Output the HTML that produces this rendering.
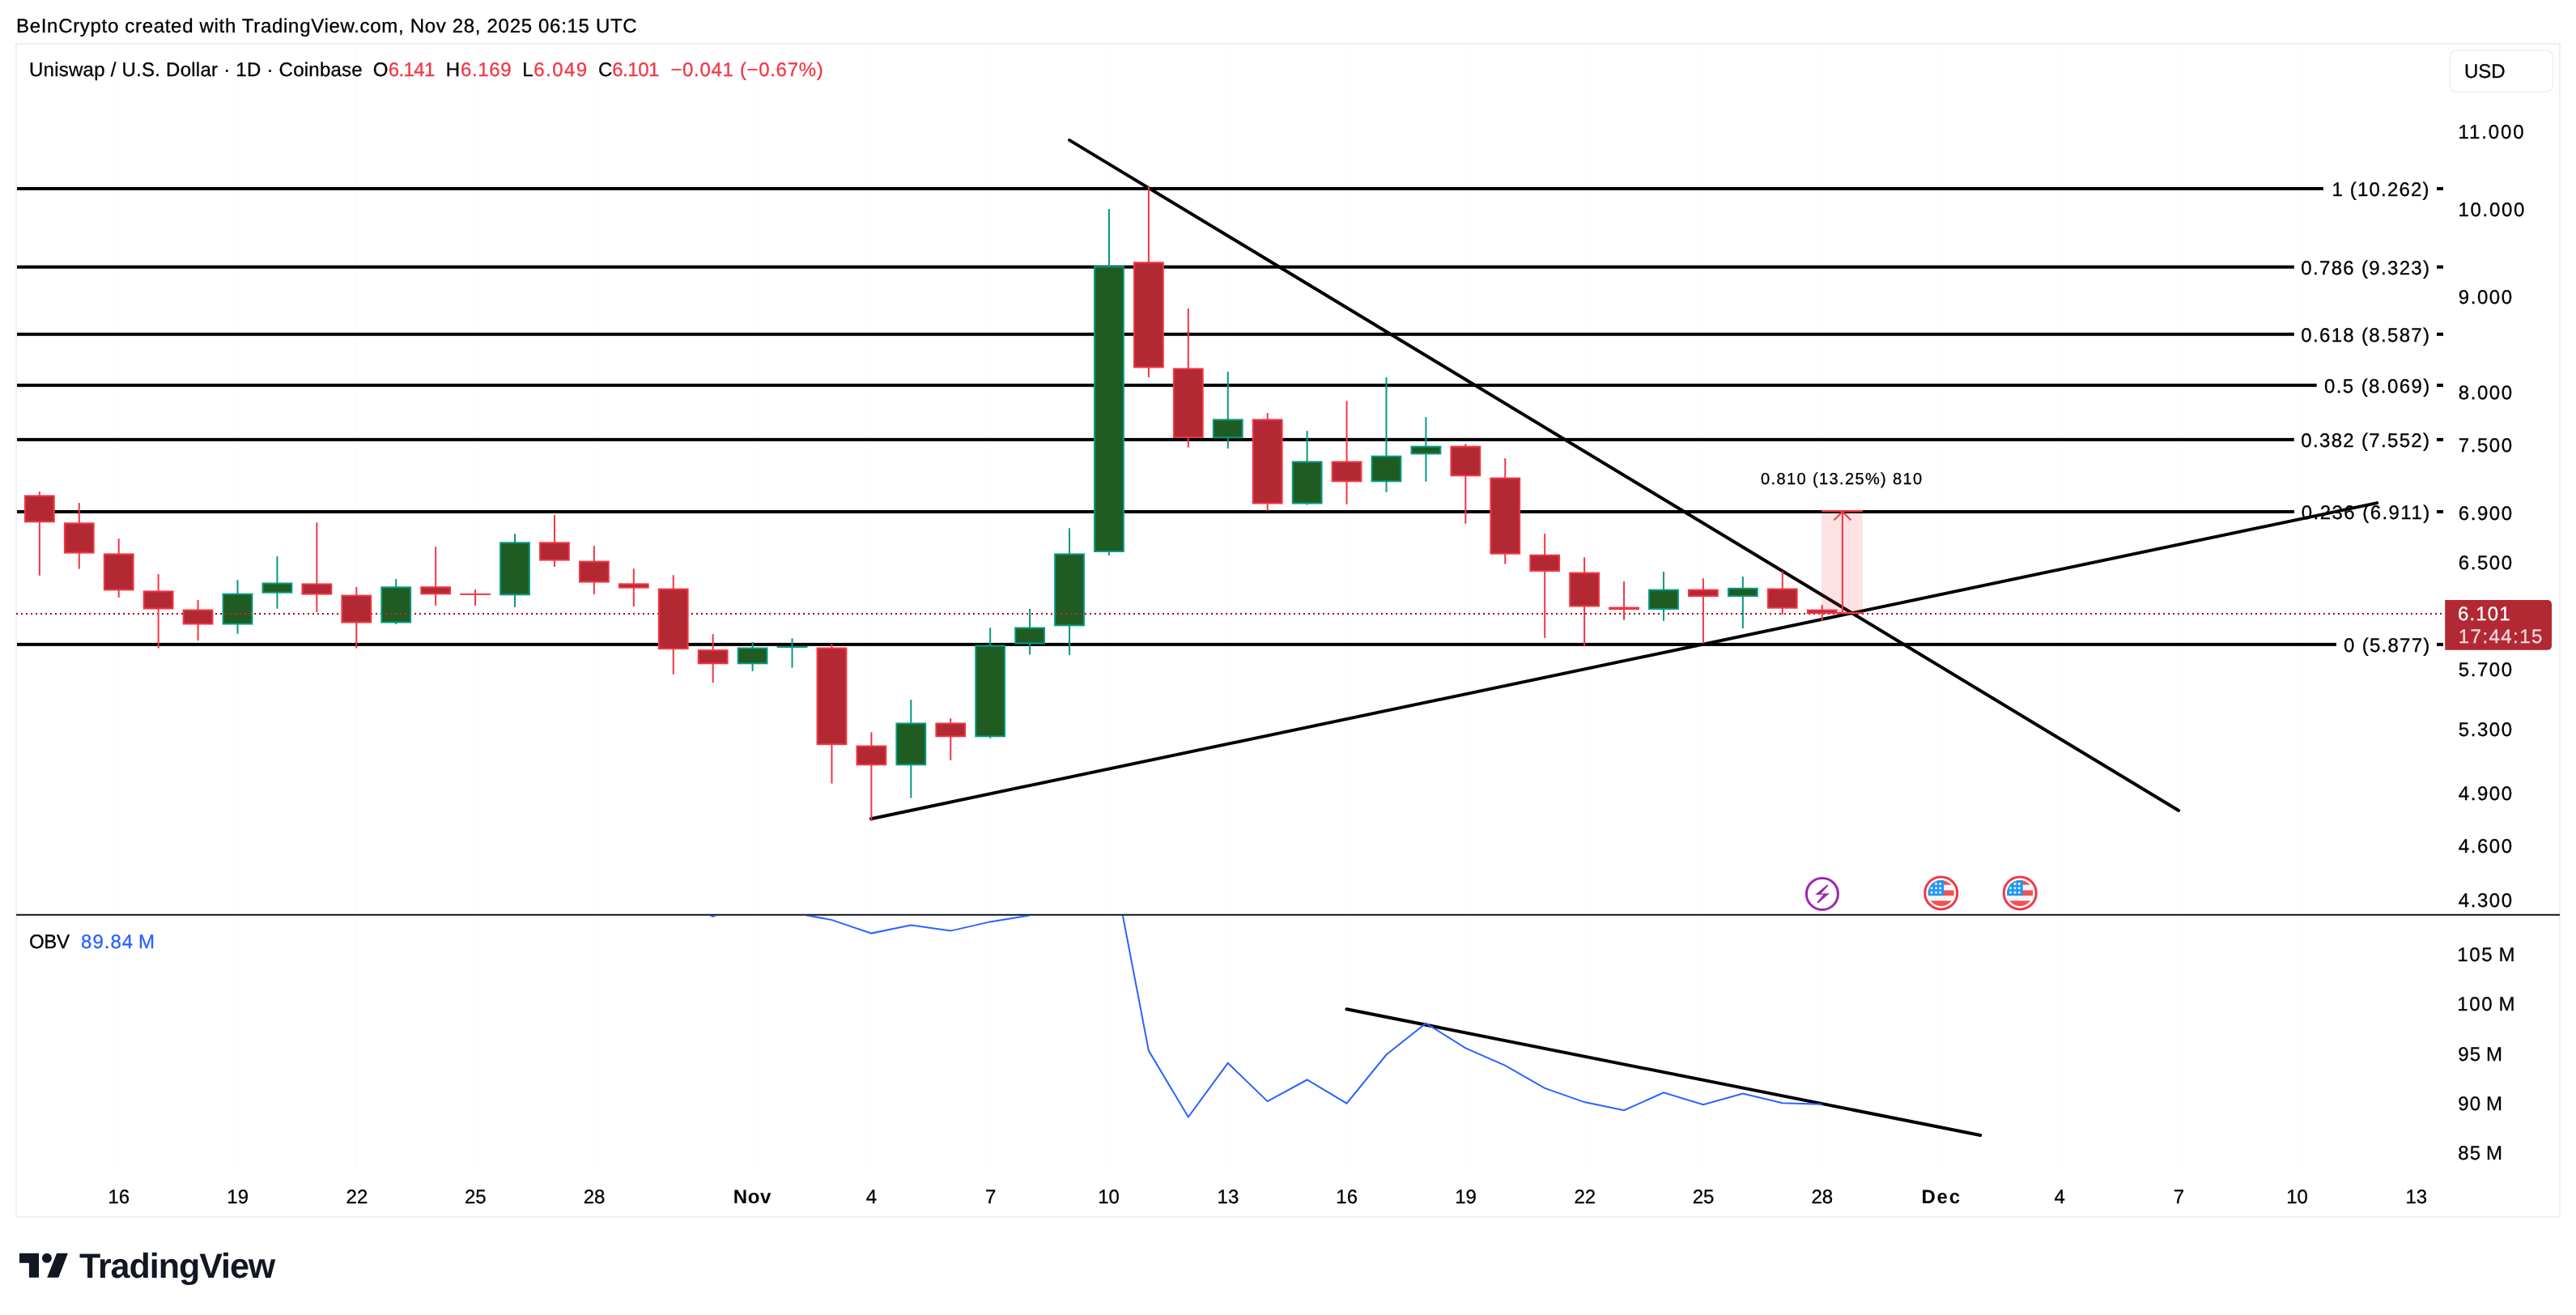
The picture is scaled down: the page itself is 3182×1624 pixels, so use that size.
<!DOCTYPE html>
<html><head><meta charset="utf-8"><title>Uniswap / U.S. Dollar chart</title>
<style>html,body{margin:0;padding:0;background:#fff;overflow:hidden}svg{display:block}</style></head>
<body>
<svg width="3182" height="1624" viewBox="0 0 3182 1624" font-family="Liberation Sans, Arial, sans-serif" text-rendering="geometricPrecision" style="will-change:transform">
<defs><clipPath id="obvclip"><rect x="20" y="1130.8" width="3000" height="316"/></clipPath></defs>
<rect width="3182" height="1624" fill="#ffffff"/>
<rect x="20" y="54" width="3142" height="1449" fill="none" stroke="#efefef" stroke-width="2"/>
<rect x="146.21" y="55" width="1" height="1391.5" fill="#fbfbfb"/>
<rect x="293.00" y="55" width="1" height="1391.5" fill="#fbfbfb"/>
<rect x="439.79" y="55" width="1" height="1391.5" fill="#fbfbfb"/>
<rect x="586.58" y="55" width="1" height="1391.5" fill="#fbfbfb"/>
<rect x="733.37" y="55" width="1" height="1391.5" fill="#fbfbfb"/>
<rect x="929.09" y="55" width="1" height="1391.5" fill="#fbfbfb"/>
<rect x="1075.88" y="55" width="1" height="1391.5" fill="#fbfbfb"/>
<rect x="1222.67" y="55" width="1" height="1391.5" fill="#fbfbfb"/>
<rect x="1369.46" y="55" width="1" height="1391.5" fill="#fbfbfb"/>
<rect x="1516.25" y="55" width="1" height="1391.5" fill="#fbfbfb"/>
<rect x="1663.04" y="55" width="1" height="1391.5" fill="#fbfbfb"/>
<rect x="1809.83" y="55" width="1" height="1391.5" fill="#fbfbfb"/>
<rect x="1956.62" y="55" width="1" height="1391.5" fill="#fbfbfb"/>
<rect x="2103.41" y="55" width="1" height="1391.5" fill="#fbfbfb"/>
<rect x="2250.20" y="55" width="1" height="1391.5" fill="#fbfbfb"/>
<rect x="2396.99" y="55" width="1" height="1391.5" fill="#fbfbfb"/>
<rect x="2543.78" y="55" width="1" height="1391.5" fill="#fbfbfb"/>
<rect x="2690.57" y="55" width="1" height="1391.5" fill="#fbfbfb"/>
<rect x="2837.36" y="55" width="1" height="1391.5" fill="#fbfbfb"/>
<rect x="2984.15" y="55" width="1" height="1391.5" fill="#fbfbfb"/>
<rect x="21" y="231.00" width="2848.90" height="4" fill="#000"/>
<rect x="3010" y="231.00" width="8" height="4" fill="#000"/>
<rect x="21" y="327.70" width="2812.80" height="4" fill="#000"/>
<rect x="3010" y="327.70" width="8" height="4" fill="#000"/>
<rect x="21" y="410.80" width="2812.80" height="4" fill="#000"/>
<rect x="3010" y="410.80" width="8" height="4" fill="#000"/>
<rect x="21" y="473.80" width="2840.70" height="4" fill="#000"/>
<rect x="3010" y="473.80" width="8" height="4" fill="#000"/>
<rect x="21" y="540.90" width="2812.80" height="4" fill="#000"/>
<rect x="3010" y="540.90" width="8" height="4" fill="#000"/>
<rect x="21" y="630.00" width="2812.90" height="4" fill="#000"/>
<rect x="3010" y="630.00" width="8" height="4" fill="#000"/>
<rect x="21" y="793.90" width="2864.90" height="4" fill="#000"/>
<rect x="3010" y="793.90" width="8" height="4" fill="#000"/>
<line x1="1321.1" y1="173.1" x2="2691.2" y2="1001.0" stroke="#000" stroke-width="4" stroke-linecap="round"/>
<line x1="1075.9" y1="1011.2" x2="2936.2" y2="621.1" stroke="#000" stroke-width="4" stroke-linecap="round"/>
<line x1="20" y1="758" x2="3017" y2="758" stroke="#9e0a14" stroke-width="2" stroke-dasharray="2 4"/>
<rect x="47.85" y="607.10" width="2" height="103.60" fill="#f23645"/>
<rect x="29.95" y="611.40" width="37.8" height="33.90" fill="#f23645"/>
<rect x="31.95" y="613.40" width="33.8" height="29.90" fill="#b22833"/>
<rect x="96.78" y="621.10" width="2" height="81.50" fill="#f23645"/>
<rect x="78.88" y="645.30" width="37.8" height="38.30" fill="#f23645"/>
<rect x="80.88" y="647.30" width="33.8" height="34.30" fill="#b22833"/>
<rect x="145.71" y="665.10" width="2" height="72.80" fill="#f23645"/>
<rect x="127.81" y="683.40" width="37.8" height="46.00" fill="#f23645"/>
<rect x="129.81" y="685.40" width="33.8" height="42.00" fill="#b22833"/>
<rect x="194.64" y="709.00" width="2" height="91.60" fill="#f23645"/>
<rect x="176.74" y="729.40" width="37.8" height="23.10" fill="#f23645"/>
<rect x="178.74" y="731.40" width="33.8" height="19.10" fill="#b22833"/>
<rect x="243.57" y="741.00" width="2" height="49.90" fill="#f23645"/>
<rect x="225.67" y="752.50" width="37.8" height="19.00" fill="#f23645"/>
<rect x="227.67" y="754.50" width="33.8" height="15.00" fill="#b22833"/>
<rect x="292.50" y="716.20" width="2" height="66.50" fill="#089981"/>
<rect x="274.60" y="732.70" width="37.8" height="38.80" fill="#089981"/>
<rect x="276.60" y="734.70" width="33.8" height="34.80" fill="#1e5c22"/>
<rect x="341.43" y="687.00" width="2" height="64.70" fill="#089981"/>
<rect x="323.53" y="719.50" width="37.8" height="13.20" fill="#089981"/>
<rect x="325.53" y="721.50" width="33.8" height="9.20" fill="#1e5c22"/>
<rect x="390.36" y="645.30" width="2" height="110.70" fill="#f23645"/>
<rect x="372.46" y="720.40" width="37.8" height="14.20" fill="#f23645"/>
<rect x="374.46" y="722.40" width="33.8" height="10.20" fill="#b22833"/>
<rect x="439.29" y="724.90" width="2" height="75.70" fill="#f23645"/>
<rect x="421.39" y="734.60" width="37.8" height="34.90" fill="#f23645"/>
<rect x="423.39" y="736.60" width="33.8" height="30.90" fill="#b22833"/>
<rect x="488.22" y="715.20" width="2" height="55.70" fill="#089981"/>
<rect x="470.32" y="724.30" width="37.8" height="45.20" fill="#089981"/>
<rect x="472.32" y="726.30" width="33.8" height="41.20" fill="#1e5c22"/>
<rect x="537.15" y="675.30" width="2" height="72.60" fill="#f23645"/>
<rect x="519.25" y="724.20" width="37.8" height="10.10" fill="#f23645"/>
<rect x="521.25" y="726.20" width="33.8" height="6.10" fill="#b22833"/>
<rect x="586.08" y="728.10" width="2" height="19.80" fill="#f23645"/>
<rect x="568.18" y="732.90" width="37.8" height="2.00" fill="#f23645"/>
<rect x="635.01" y="659.20" width="2" height="90.60" fill="#089981"/>
<rect x="617.11" y="669.30" width="37.8" height="66.00" fill="#089981"/>
<rect x="619.11" y="671.30" width="33.8" height="62.00" fill="#1e5c22"/>
<rect x="683.94" y="636.10" width="2" height="63.90" fill="#f23645"/>
<rect x="666.04" y="669.30" width="37.8" height="23.30" fill="#f23645"/>
<rect x="668.04" y="671.30" width="33.8" height="19.30" fill="#b22833"/>
<rect x="732.87" y="674.10" width="2" height="59.80" fill="#f23645"/>
<rect x="714.97" y="692.60" width="37.8" height="27.00" fill="#f23645"/>
<rect x="716.97" y="694.60" width="33.8" height="23.00" fill="#b22833"/>
<rect x="781.80" y="702.30" width="2" height="46.80" fill="#f23645"/>
<rect x="763.90" y="720.30" width="37.8" height="6.30" fill="#f23645"/>
<rect x="765.90" y="722.30" width="33.8" height="2.30" fill="#b22833"/>
<rect x="830.73" y="710.20" width="2" height="122.60" fill="#f23645"/>
<rect x="812.83" y="726.60" width="37.8" height="75.50" fill="#f23645"/>
<rect x="814.83" y="728.60" width="33.8" height="71.50" fill="#b22833"/>
<rect x="879.66" y="783.10" width="2" height="59.90" fill="#f23645"/>
<rect x="861.76" y="802.10" width="37.8" height="18.20" fill="#f23645"/>
<rect x="863.76" y="804.10" width="33.8" height="14.20" fill="#b22833"/>
<rect x="928.59" y="793.00" width="2" height="35.80" fill="#089981"/>
<rect x="910.69" y="799.50" width="37.8" height="20.80" fill="#089981"/>
<rect x="912.69" y="801.50" width="33.8" height="16.80" fill="#1e5c22"/>
<rect x="977.52" y="788.30" width="2" height="36.30" fill="#089981"/>
<rect x="959.62" y="798.00" width="37.8" height="2.00" fill="#089981"/>
<rect x="1026.45" y="795.20" width="2" height="172.40" fill="#f23645"/>
<rect x="1008.55" y="799.50" width="37.8" height="120.60" fill="#f23645"/>
<rect x="1010.55" y="801.50" width="33.8" height="116.60" fill="#b22833"/>
<rect x="1075.38" y="904.30" width="2" height="109.50" fill="#f23645"/>
<rect x="1057.48" y="920.50" width="37.8" height="24.80" fill="#f23645"/>
<rect x="1059.48" y="922.50" width="33.8" height="20.80" fill="#b22833"/>
<rect x="1124.31" y="864.20" width="2" height="121.20" fill="#089981"/>
<rect x="1106.41" y="892.50" width="37.8" height="52.80" fill="#089981"/>
<rect x="1108.41" y="894.50" width="33.8" height="48.80" fill="#1e5c22"/>
<rect x="1173.24" y="887.10" width="2" height="51.80" fill="#f23645"/>
<rect x="1155.34" y="892.50" width="37.8" height="17.80" fill="#f23645"/>
<rect x="1157.34" y="894.50" width="33.8" height="13.80" fill="#b22833"/>
<rect x="1222.17" y="775.20" width="2" height="136.60" fill="#089981"/>
<rect x="1204.27" y="796.60" width="37.8" height="113.70" fill="#089981"/>
<rect x="1206.27" y="798.60" width="33.8" height="109.70" fill="#1e5c22"/>
<rect x="1271.10" y="752.00" width="2" height="56.30" fill="#089981"/>
<rect x="1253.20" y="774.50" width="37.8" height="21.00" fill="#089981"/>
<rect x="1255.20" y="776.50" width="33.8" height="17.00" fill="#1e5c22"/>
<rect x="1320.03" y="652.30" width="2" height="156.70" fill="#089981"/>
<rect x="1302.13" y="683.40" width="37.8" height="89.90" fill="#089981"/>
<rect x="1304.13" y="685.40" width="33.8" height="85.90" fill="#1e5c22"/>
<rect x="1368.96" y="258.10" width="2" height="428.00" fill="#089981"/>
<rect x="1351.06" y="328.30" width="37.8" height="353.70" fill="#089981"/>
<rect x="1353.06" y="330.30" width="33.8" height="349.70" fill="#1e5c22"/>
<rect x="1417.89" y="230.10" width="2" height="235.80" fill="#f23645"/>
<rect x="1399.99" y="323.30" width="37.8" height="131.20" fill="#f23645"/>
<rect x="1401.99" y="325.30" width="33.8" height="127.20" fill="#b22833"/>
<rect x="1466.82" y="381.00" width="2" height="171.60" fill="#f23645"/>
<rect x="1448.92" y="454.50" width="37.8" height="86.50" fill="#f23645"/>
<rect x="1450.92" y="456.50" width="33.8" height="82.50" fill="#b22833"/>
<rect x="1515.75" y="459.10" width="2" height="94.70" fill="#089981"/>
<rect x="1497.85" y="517.40" width="37.8" height="23.90" fill="#089981"/>
<rect x="1499.85" y="519.40" width="33.8" height="19.90" fill="#1e5c22"/>
<rect x="1564.68" y="510.20" width="2" height="120.70" fill="#f23645"/>
<rect x="1546.78" y="517.40" width="37.8" height="105.10" fill="#f23645"/>
<rect x="1548.78" y="519.40" width="33.8" height="101.10" fill="#b22833"/>
<rect x="1613.61" y="532.20" width="2" height="91.40" fill="#089981"/>
<rect x="1595.71" y="569.40" width="37.8" height="53.10" fill="#089981"/>
<rect x="1597.71" y="571.40" width="33.8" height="49.10" fill="#1e5c22"/>
<rect x="1662.54" y="495.20" width="2" height="127.60" fill="#f23645"/>
<rect x="1644.64" y="569.40" width="37.8" height="25.90" fill="#f23645"/>
<rect x="1646.64" y="571.40" width="33.8" height="21.90" fill="#b22833"/>
<rect x="1711.47" y="466.00" width="2" height="141.80" fill="#089981"/>
<rect x="1693.57" y="562.60" width="37.8" height="32.70" fill="#089981"/>
<rect x="1695.57" y="564.60" width="33.8" height="28.70" fill="#1e5c22"/>
<rect x="1760.40" y="515.10" width="2" height="79.70" fill="#089981"/>
<rect x="1742.50" y="550.60" width="37.8" height="10.70" fill="#089981"/>
<rect x="1744.50" y="552.60" width="33.8" height="6.70" fill="#1e5c22"/>
<rect x="1809.33" y="548.20" width="2" height="98.50" fill="#f23645"/>
<rect x="1791.43" y="550.60" width="37.8" height="37.70" fill="#f23645"/>
<rect x="1793.43" y="552.60" width="33.8" height="33.70" fill="#b22833"/>
<rect x="1858.26" y="566.00" width="2" height="130.50" fill="#f23645"/>
<rect x="1840.36" y="589.60" width="37.8" height="95.10" fill="#f23645"/>
<rect x="1842.36" y="591.60" width="33.8" height="91.10" fill="#b22833"/>
<rect x="1907.19" y="659.10" width="2" height="128.70" fill="#f23645"/>
<rect x="1889.29" y="684.70" width="37.8" height="21.30" fill="#f23645"/>
<rect x="1891.29" y="686.70" width="33.8" height="17.30" fill="#b22833"/>
<rect x="1956.12" y="688.30" width="2" height="109.90" fill="#f23645"/>
<rect x="1938.22" y="706.60" width="37.8" height="42.90" fill="#f23645"/>
<rect x="1940.22" y="708.60" width="33.8" height="38.90" fill="#b22833"/>
<rect x="2005.05" y="718.10" width="2" height="47.80" fill="#f23645"/>
<rect x="1987.15" y="749.50" width="37.8" height="3.60" fill="#f23645"/>
<rect x="2053.98" y="706.00" width="2" height="60.80" fill="#089981"/>
<rect x="2036.08" y="727.60" width="37.8" height="25.40" fill="#089981"/>
<rect x="2038.08" y="729.60" width="33.8" height="21.40" fill="#1e5c22"/>
<rect x="2102.91" y="714.30" width="2" height="80.30" fill="#f23645"/>
<rect x="2085.01" y="727.60" width="37.8" height="9.50" fill="#f23645"/>
<rect x="2087.01" y="729.60" width="33.8" height="5.50" fill="#b22833"/>
<rect x="2151.84" y="712.10" width="2" height="63.90" fill="#089981"/>
<rect x="2133.94" y="725.80" width="37.8" height="11.30" fill="#089981"/>
<rect x="2135.94" y="727.80" width="33.8" height="7.30" fill="#1e5c22"/>
<rect x="2200.77" y="705.50" width="2" height="53.50" fill="#f23645"/>
<rect x="2182.87" y="726.50" width="37.8" height="25.20" fill="#f23645"/>
<rect x="2184.87" y="728.50" width="33.8" height="21.20" fill="#b22833"/>
<rect x="2249.70" y="747.10" width="2" height="19.70" fill="#f23645"/>
<rect x="2231.80" y="752.60" width="37.8" height="5.50" fill="#f23645"/>
<rect x="2233.80" y="754.60" width="33.8" height="1.50" fill="#b22833"/>
<line x1="20" y1="758" x2="3017" y2="758" stroke="#e11d38" stroke-width="2" stroke-dasharray="2 4" clip-path="url(#gb5)"/>
<clipPath id="gb5"><rect x="276.60" y="700" width="33.8" height="100"/></clipPath>
<line x1="20" y1="758" x2="3017" y2="758" stroke="#e11d38" stroke-width="2" stroke-dasharray="2 4" clip-path="url(#gb9)"/>
<clipPath id="gb9"><rect x="472.32" y="700" width="33.8" height="100"/></clipPath>
<line x1="20" y1="758" x2="3017" y2="758" stroke="#e11d38" stroke-width="2" stroke-dasharray="2 4" clip-path="url(#gb26)"/>
<clipPath id="gb26"><rect x="1304.13" y="700" width="33.8" height="100"/></clipPath>
<rect x="2250.2" y="631" width="50.6" height="126" fill="#f23645" fill-opacity="0.15"/>
<rect x="2250.2" y="630" width="50.6" height="2" fill="#f23645"/>
<rect x="2269" y="756" width="31.8" height="2" fill="#f23645"/>
<path d="M2275.9,756.5 L2275.9,632 M2265.4,642.4 L2275.9,632 L2286.4,642.4" fill="none" stroke="#f23645" stroke-width="2"/>
<circle cx="2250.9" cy="1103.9" r="19.5" fill="#fff" stroke="#9c27b0" stroke-width="3"/><path d="M2257.10,1092.50 L2242.10,1104.90 L2252.30,1104.80 L2244.20,1114.40 L2245.80,1115.60 L2259.90,1103.30 L2249.60,1103.40 L2258.60,1093.60 Z" fill="#9c27b0"/>
<circle cx="2397.7" cy="1102.9" r="20" fill="#fff" stroke="#f23645" stroke-width="3"/>
<clipPath id="fc2397"><circle cx="2397.7" cy="1102.9" r="16"/></clipPath>
<g clip-path="url(#fc2397)">
<rect x="2380.7" y="1085.9" width="34" height="34" fill="#f5f6fa"/>
<rect x="2380.7" y="1086.9" width="34" height="5.800000000000001" fill="#ef5350"/>
<rect x="2380.7" y="1099.5" width="34" height="6.6" fill="#ef5350"/>
<rect x="2380.7" y="1112.4" width="34" height="7.5" fill="#ef5350"/>
<rect x="2380.7" y="1085.9" width="20.5" height="20.2" fill="#2196f3"/>
<polygon points="2391.50,1089.30 2392.06,1090.83 2393.69,1090.89 2392.40,1091.89 2392.85,1093.46 2391.50,1092.55 2390.15,1093.46 2390.60,1091.89 2389.31,1090.89 2390.94,1090.83" fill="#fff"/>
<polygon points="2396.70,1089.30 2397.26,1090.83 2398.89,1090.89 2397.60,1091.89 2398.05,1093.46 2396.70,1092.55 2395.35,1093.46 2395.80,1091.89 2394.51,1090.89 2396.14,1090.83" fill="#fff"/>
<polygon points="2386.10,1094.60 2386.66,1096.13 2388.29,1096.19 2387.00,1097.19 2387.45,1098.76 2386.10,1097.85 2384.75,1098.76 2385.20,1097.19 2383.91,1096.19 2385.54,1096.13" fill="#fff"/>
<polygon points="2391.50,1094.60 2392.06,1096.13 2393.69,1096.19 2392.40,1097.19 2392.85,1098.76 2391.50,1097.85 2390.15,1098.76 2390.60,1097.19 2389.31,1096.19 2390.94,1096.13" fill="#fff"/>
<polygon points="2396.70,1094.60 2397.26,1096.13 2398.89,1096.19 2397.60,1097.19 2398.05,1098.76 2396.70,1097.85 2395.35,1098.76 2395.80,1097.19 2394.51,1096.19 2396.14,1096.13" fill="#fff"/>
<polygon points="2386.10,1099.90 2386.66,1101.43 2388.29,1101.49 2387.00,1102.49 2387.45,1104.06 2386.10,1103.15 2384.75,1104.06 2385.20,1102.49 2383.91,1101.49 2385.54,1101.43" fill="#fff"/>
<polygon points="2391.50,1099.90 2392.06,1101.43 2393.69,1101.49 2392.40,1102.49 2392.85,1104.06 2391.50,1103.15 2390.15,1104.06 2390.60,1102.49 2389.31,1101.49 2390.94,1101.43" fill="#fff"/>
<polygon points="2396.70,1099.90 2397.26,1101.43 2398.89,1101.49 2397.60,1102.49 2398.05,1104.06 2396.70,1103.15 2395.35,1104.06 2395.80,1102.49 2394.51,1101.49 2396.14,1101.43" fill="#fff"/>
</g>
<circle cx="2495.2" cy="1102.9" r="20" fill="#fff" stroke="#f23645" stroke-width="3"/>
<clipPath id="fc2495"><circle cx="2495.2" cy="1102.9" r="16"/></clipPath>
<g clip-path="url(#fc2495)">
<rect x="2478.2" y="1085.9" width="34" height="34" fill="#f5f6fa"/>
<rect x="2478.2" y="1086.9" width="34" height="5.800000000000001" fill="#ef5350"/>
<rect x="2478.2" y="1099.5" width="34" height="6.6" fill="#ef5350"/>
<rect x="2478.2" y="1112.4" width="34" height="7.5" fill="#ef5350"/>
<rect x="2478.2" y="1085.9" width="20.5" height="20.2" fill="#2196f3"/>
<polygon points="2489.00,1089.30 2489.56,1090.83 2491.19,1090.89 2489.90,1091.89 2490.35,1093.46 2489.00,1092.55 2487.65,1093.46 2488.10,1091.89 2486.81,1090.89 2488.44,1090.83" fill="#fff"/>
<polygon points="2494.20,1089.30 2494.76,1090.83 2496.39,1090.89 2495.10,1091.89 2495.55,1093.46 2494.20,1092.55 2492.85,1093.46 2493.30,1091.89 2492.01,1090.89 2493.64,1090.83" fill="#fff"/>
<polygon points="2483.60,1094.60 2484.16,1096.13 2485.79,1096.19 2484.50,1097.19 2484.95,1098.76 2483.60,1097.85 2482.25,1098.76 2482.70,1097.19 2481.41,1096.19 2483.04,1096.13" fill="#fff"/>
<polygon points="2489.00,1094.60 2489.56,1096.13 2491.19,1096.19 2489.90,1097.19 2490.35,1098.76 2489.00,1097.85 2487.65,1098.76 2488.10,1097.19 2486.81,1096.19 2488.44,1096.13" fill="#fff"/>
<polygon points="2494.20,1094.60 2494.76,1096.13 2496.39,1096.19 2495.10,1097.19 2495.55,1098.76 2494.20,1097.85 2492.85,1098.76 2493.30,1097.19 2492.01,1096.19 2493.64,1096.13" fill="#fff"/>
<polygon points="2483.60,1099.90 2484.16,1101.43 2485.79,1101.49 2484.50,1102.49 2484.95,1104.06 2483.60,1103.15 2482.25,1104.06 2482.70,1102.49 2481.41,1101.49 2483.04,1101.43" fill="#fff"/>
<polygon points="2489.00,1099.90 2489.56,1101.43 2491.19,1101.49 2489.90,1102.49 2490.35,1104.06 2489.00,1103.15 2487.65,1104.06 2488.10,1102.49 2486.81,1101.49 2488.44,1101.43" fill="#fff"/>
<polygon points="2494.20,1099.90 2494.76,1101.43 2496.39,1101.49 2495.10,1102.49 2495.55,1104.06 2494.20,1103.15 2492.85,1104.06 2493.30,1102.49 2492.01,1101.49 2493.64,1101.43" fill="#fff"/>
</g>
<rect x="20" y="1128.8" width="3142" height="2" fill="#131722"/>
<line x1="1663.4" y1="1246.2" x2="2446.2" y2="1402" stroke="#000" stroke-width="4" stroke-linecap="round"/>
<polyline points="831.73,1110.00 880.66,1131.90 929.59,1110.00 978.52,1127.10 1027.45,1136.10 1076.38,1152.60 1125.31,1142.60 1174.24,1149.60 1223.17,1138.40 1272.10,1130.40 1321.03,1090.00 1369.96,1042.30 1418.89,1297.60 1467.82,1379.50 1516.75,1312.80 1565.68,1360.10 1614.61,1333.50 1663.54,1362.70 1712.47,1302.50 1761.40,1263.70 1810.33,1294.30 1859.26,1315.80 1908.19,1343.90 1957.12,1361.10 2006.05,1371.20 2054.98,1349.40 2103.91,1364.30 2152.84,1350.60 2201.77,1362.30 2250.70,1363.80" fill="none" stroke="#2962ff" stroke-width="2" stroke-linejoin="miter" clip-path="url(#obvclip)"/>
<path d="M3020.2,741.1 H3147 a5,5 0 0 1 5,5 V797.8 a5,5 0 0 1 -5,5 H3020.2 Z" fill="#b22833"/>
<rect x="3026" y="62" width="127.5" height="51.8" rx="9" fill="#fff" stroke="#efefef" stroke-width="1.5"/>
<path d="M24,1547.8 H48 V1577.7 H35.9 V1559.7 H24 Z" fill="#131722"/>
<circle cx="57.9" cy="1553.8" r="6" fill="#131722"/>
<path d="M70.1,1547.8 H83.9 L72.3,1577.7 H58.2 Z" fill="#131722"/>
<text x="20.00" y="40.00" font-size="24" stroke="#000000" stroke-width="0.3" fill="#000000" textLength="766.64" lengthAdjust="spacing">BeInCrypto created with TradingView.com, Nov 28, 2025 06:15 UTC</text>
<text x="36.00" y="93.90" font-size="24" stroke="#000000" stroke-width="0.3" fill="#000000" textLength="411.71" lengthAdjust="spacing">Uniswap / U.S. Dollar · 1D · Coinbase</text>
<text x="460.80" y="93.90" font-size="24" stroke="#000000" stroke-width="0.3" fill="#000000" textLength="18.67" lengthAdjust="spacing">O</text>
<text x="479.80" y="93.90" font-size="24" stroke="#f23645" stroke-width="0.3" fill="#f23645" textLength="57.46" lengthAdjust="spacing">6.141</text>
<text x="550.70" y="93.90" font-size="24" stroke="#000000" stroke-width="0.3" fill="#000000" textLength="19.24" lengthAdjust="spacing">H</text>
<text x="568.90" y="93.90" font-size="24" stroke="#f23645" stroke-width="0.3" fill="#f23645" textLength="62.76" lengthAdjust="spacing">6.169</text>
<text x="645.30" y="93.90" font-size="24" stroke="#000000" stroke-width="0.3" fill="#000000">L</text>
<text x="659.30" y="93.90" font-size="24" stroke="#f23645" stroke-width="0.3" fill="#f23645" textLength="65.76" lengthAdjust="spacing">6.049</text>
<text x="739.00" y="93.90" font-size="24" stroke="#000000" stroke-width="0.3" fill="#000000">C</text>
<text x="756.20" y="93.90" font-size="24" stroke="#f23645" stroke-width="0.3" fill="#f23645" textLength="58.16" lengthAdjust="spacing">6.101</text>
<text x="828.40" y="93.90" font-size="24" stroke="#f23645" stroke-width="0.3" fill="#f23645" textLength="188.30" lengthAdjust="spacing">−0.041 (−0.67%)</text>
<text x="3043.90" y="95.90" font-size="24" stroke="#000000" stroke-width="0.3" fill="#000000" textLength="50.67" lengthAdjust="spacing">USD</text>
<text x="3036.60" y="171.10" font-size="24" stroke="#000000" stroke-width="0.3" fill="#000000" textLength="80.93" lengthAdjust="spacing">11.000</text>
<text x="3036.60" y="267.10" font-size="24" stroke="#000000" stroke-width="0.3" fill="#000000" textLength="81.71" lengthAdjust="spacing">10.000</text>
<text x="3036.80" y="374.70" font-size="24" stroke="#000000" stroke-width="0.3" fill="#000000" textLength="66.26" lengthAdjust="spacing">9.000</text>
<text x="3036.80" y="493.00" font-size="24" stroke="#000000" stroke-width="0.3" fill="#000000" textLength="66.26" lengthAdjust="spacing">8.000</text>
<text x="3036.80" y="558.00" font-size="24" stroke="#000000" stroke-width="0.3" fill="#000000" textLength="66.26" lengthAdjust="spacing">7.500</text>
<text x="3036.80" y="641.70" font-size="24" stroke="#000000" stroke-width="0.3" fill="#000000" textLength="66.26" lengthAdjust="spacing">6.900</text>
<text x="3036.80" y="702.70" font-size="24" stroke="#000000" stroke-width="0.3" fill="#000000" textLength="66.26" lengthAdjust="spacing">6.500</text>
<text x="3036.80" y="835.00" font-size="24" stroke="#000000" stroke-width="0.3" fill="#000000" textLength="66.26" lengthAdjust="spacing">5.700</text>
<text x="3036.80" y="909.40" font-size="24" stroke="#000000" stroke-width="0.3" fill="#000000" textLength="66.26" lengthAdjust="spacing">5.300</text>
<text x="3036.80" y="987.90" font-size="24" stroke="#000000" stroke-width="0.3" fill="#000000" textLength="66.26" lengthAdjust="spacing">4.900</text>
<text x="3036.80" y="1052.60" font-size="24" stroke="#000000" stroke-width="0.3" fill="#000000" textLength="66.26" lengthAdjust="spacing">4.600</text>
<text x="3036.80" y="1120.10" font-size="24" stroke="#000000" stroke-width="0.3" fill="#000000" textLength="66.26" lengthAdjust="spacing">4.300</text>
<text x="2880.40" y="242.20" font-size="24" stroke="#000000" stroke-width="0.3" fill="#000000" textLength="120.21" lengthAdjust="spacing">1 (10.262)</text>
<text x="2842.30" y="338.90" font-size="24" stroke="#000000" stroke-width="0.3" fill="#000000" textLength="158.68" lengthAdjust="spacing">0.786 (9.323)</text>
<text x="2842.30" y="422.00" font-size="24" stroke="#000000" stroke-width="0.3" fill="#000000" textLength="158.68" lengthAdjust="spacing">0.618 (8.587)</text>
<text x="2870.90" y="485.00" font-size="24" stroke="#000000" stroke-width="0.3" fill="#000000" textLength="130.38" lengthAdjust="spacing">0.5 (8.069)</text>
<text x="2842.30" y="552.10" font-size="24" stroke="#000000" stroke-width="0.3" fill="#000000" textLength="158.68" lengthAdjust="spacing">0.382 (7.552)</text>
<text x="2842.70" y="641.20" font-size="24" stroke="#000000" stroke-width="0.3" fill="#000000" textLength="158.50" lengthAdjust="spacing">0.236 (6.911)</text>
<text x="2895.10" y="805.10" font-size="24" stroke="#000000" stroke-width="0.3" fill="#000000" textLength="106.16" lengthAdjust="spacing">0 (5.877)</text>
<text x="3035.90" y="766.00" font-size="24" stroke="#ffffff" stroke-width="0.3" fill="#ffffff" textLength="64.66" lengthAdjust="spacing">6.101</text>
<text x="3036.80" y="794.00" font-size="24" stroke="#ffffff" stroke-width="0.3" fill="#ffffff" textLength="103.52" lengthAdjust="spacing" opacity="0.82">17:44:15</text>
<text x="2175.00" y="598.40" font-size="20" stroke="#000000" stroke-width="0.3" fill="#000000" textLength="199.19" lengthAdjust="spacing">0.810 (13.25%) 810</text>
<text x="35.90" y="1171.00" font-size="24" stroke="#000000" stroke-width="0.3" fill="#000000" textLength="50.19" lengthAdjust="spacing">OBV</text>
<text x="100.00" y="1171.00" font-size="24" stroke="#2962ff" stroke-width="0.3" fill="#2962ff" textLength="91.06" lengthAdjust="spacing">89.84 M</text>
<text x="3035.20" y="1186.90" font-size="24" stroke="#000000" stroke-width="0.3" fill="#000000" textLength="71.34" lengthAdjust="spacing">105 M</text>
<text x="3035.20" y="1248.10" font-size="24" stroke="#000000" stroke-width="0.3" fill="#000000" textLength="71.34" lengthAdjust="spacing">100 M</text>
<text x="3036.20" y="1309.50" font-size="24" stroke="#000000" stroke-width="0.3" fill="#000000" textLength="54.80" lengthAdjust="spacing">95 M</text>
<text x="3036.20" y="1371.00" font-size="24" stroke="#000000" stroke-width="0.3" fill="#000000" textLength="54.80" lengthAdjust="spacing">90 M</text>
<text x="3036.20" y="1432.10" font-size="24" stroke="#000000" stroke-width="0.3" fill="#000000" textLength="54.80" lengthAdjust="spacing">85 M</text>
<text x="133.51" y="1486.00" font-size="24" stroke="#000000" stroke-width="0.3" fill="#000000">16</text>
<text x="280.30" y="1486.00" font-size="24" stroke="#000000" stroke-width="0.3" fill="#000000">19</text>
<text x="427.59" y="1486.00" font-size="24" stroke="#000000" stroke-width="0.3" fill="#000000">22</text>
<text x="573.88" y="1486.00" font-size="24" stroke="#000000" stroke-width="0.3" fill="#000000">25</text>
<text x="720.67" y="1486.00" font-size="24" stroke="#000000" stroke-width="0.3" fill="#000000">28</text>
<text x="905.69" y="1486.00" font-size="24" font-weight="bold" fill="#000000" textLength="46.74" lengthAdjust="spacing">Nov</text>
<text x="1069.68" y="1486.00" font-size="24" stroke="#000000" stroke-width="0.3" fill="#000000">4</text>
<text x="1216.97" y="1486.00" font-size="24" stroke="#000000" stroke-width="0.3" fill="#000000">7</text>
<text x="1356.26" y="1486.00" font-size="24" stroke="#000000" stroke-width="0.3" fill="#000000">10</text>
<text x="1503.55" y="1486.00" font-size="24" stroke="#000000" stroke-width="0.3" fill="#000000">13</text>
<text x="1650.34" y="1486.00" font-size="24" stroke="#000000" stroke-width="0.3" fill="#000000">16</text>
<text x="1797.13" y="1486.00" font-size="24" stroke="#000000" stroke-width="0.3" fill="#000000">19</text>
<text x="1944.42" y="1486.00" font-size="24" stroke="#000000" stroke-width="0.3" fill="#000000">22</text>
<text x="2090.71" y="1486.00" font-size="24" stroke="#000000" stroke-width="0.3" fill="#000000">25</text>
<text x="2237.50" y="1486.00" font-size="24" stroke="#000000" stroke-width="0.3" fill="#000000">28</text>
<text x="2373.59" y="1486.00" font-size="24" font-weight="bold" fill="#000000" textLength="47.43" lengthAdjust="spacing">Dec</text>
<text x="2537.58" y="1486.00" font-size="24" stroke="#000000" stroke-width="0.3" fill="#000000">4</text>
<text x="2684.87" y="1486.00" font-size="24" stroke="#000000" stroke-width="0.3" fill="#000000">7</text>
<text x="2824.16" y="1486.00" font-size="24" stroke="#000000" stroke-width="0.3" fill="#000000">10</text>
<text x="2971.45" y="1486.00" font-size="24" stroke="#000000" stroke-width="0.3" fill="#000000">13</text>
<text x="98.00" y="1578.00" font-size="43" font-weight="bold" fill="#131722" textLength="242.30" lengthAdjust="spacing">TradingView</text>
</svg>
</body></html>
